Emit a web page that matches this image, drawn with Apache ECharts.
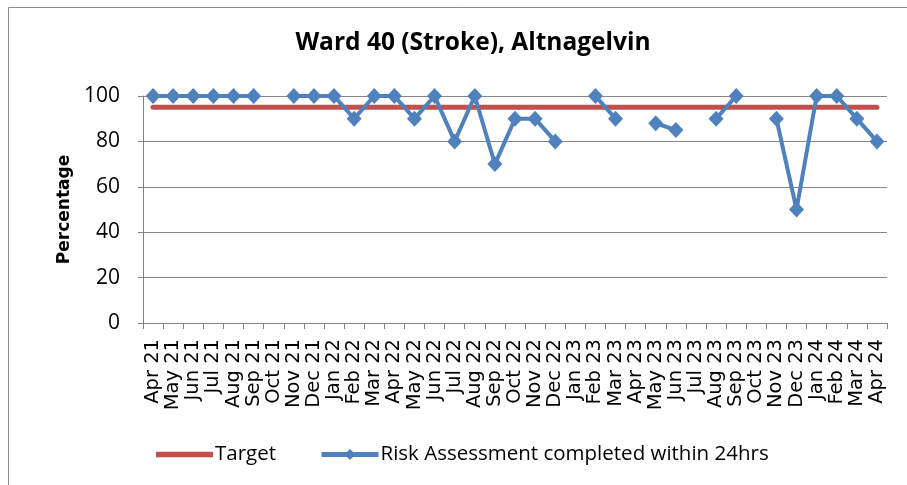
<!DOCTYPE html>
<html><head><meta charset="utf-8">
<script src="https://cdn.jsdelivr.net/npm/echarts@6/dist/echarts.min.js"></script>
<style>html,body{margin:0;padding:0;background:#fff}#c{width:907px;height:485px}</style>
</head><body><div id="c"></div>
<script>
const categories = ["Apr 21","May 21","Jun 21","Jul 21","Aug 21","Sep 21","Oct 21","Nov 21","Dec 21","Jan 22","Feb 22","Mar 22","Apr 22","May 22","Jun 22","Jul 22","Aug 22","Sep 22","Oct 22","Nov 22","Dec 22","Jan 23","Feb 23","Mar 23","Apr 23","May 23","Jun 23","Jul 23","Aug 23","Sep 23","Oct 23","Nov 23","Dec 23","Jan 24","Feb 24","Mar 24","Apr 24"];
const riskValues = [100,100,100,100,100,100,null,100,100,100,90,100,100,90,100,80,100,70,90,90,80,null,100,90,null,88,85,null,90,100,null,90,50,100,100,90,80];
const targetValues = [95,95,95,95,95,95,95,95,95,95,95,95,95,95,95,95,95,95,95,95,95,95,95,95,95,95,95,95,95,95,95,95,95,95,95,95,95];
const yTicks = {min:0, max:100, interval:20};
const titleText = "Ward 40 (Stroke), Altnagelvin";
const yName = "Percentage";
const seriesNames = ["Target","Risk Assessment completed within 24hrs"];

const chart = echarts.init(document.getElementById('c'), null, {renderer:'canvas'});
const os = "'Open Sans', sans-serif";
chart.setOption({
  animation:false,
  backgroundColor:'#fff',
  graphic:[{type:'rect', shape:{x:8.5,y:7.5,width:1000,height:1000}, style:{fill:'none', stroke:'#8c8c8c', lineWidth:1}, silent:true}],
  title:{text:titleText, top:26, left:468, textAlign:'center', textStyle:{fontFamily:os, fontWeight:'bold', fontSize:24.5, color:'#000'}},
  grid:{left:143, right:20, top:96, bottom:162, containLabel:false},
  legend:{left:151, top:439, itemWidth:57, itemHeight:14, itemGap:43,
    textStyle:{fontFamily:os, fontSize:20.5, color:'#000', padding:[0,0,0,-3]},
    data:[{name:seriesNames[0], icon:'path://M0,0 L10,0 L10,1 L0,1 Z'},
          {name:seriesNames[1], lineStyle:{width:5}}]},
  xAxis:{type:'category', data:categories, boundaryGap:true,
    axisLine:{lineStyle:{color:'#868686', width:1}},
    axisTick:{show:true, alignWithLabel:false, interval:0, length:6, lineStyle:{color:'#868686'}},
    axisLabel:{interval:0, rotate:90, fontFamily:"'DejaVu Sans', sans-serif", fontSize:19.5, color:'#000', margin:16}},
  yAxis:{type:'value', min:yTicks.min, max:yTicks.max, interval:yTicks.interval,
    name:yName, nameLocation:'middle', nameGap:68, nameRotate:90,
    nameTextStyle:{fontFamily:"'DejaVu Sans', sans-serif", fontWeight:'bold', fontSize:17, color:'#000'},
    axisLine:{show:true, lineStyle:{color:'#868686'}},
    axisTick:{show:true, length:5, lineStyle:{color:'#868686'}},
    axisLabel:{fontFamily:os, fontSize:21, color:'#000', margin:23},
    splitLine:{lineStyle:{color:'#868686', width:1}}},
  series:[
    {name:seriesNames[0], type:'line', data:targetValues, symbol:'none', itemStyle:{color:'#C0504D'}, lineStyle:{color:'#C0504D', width:5, cap:'round'}, z:2},
    {name:seriesNames[1], type:'line', data:riskValues, connectNulls:false, symbol:'diamond', symbolSize:[15,16],
      itemStyle:{color:'#4F81BD'}, lineStyle:{color:'#4F81BD', width:4}, z:3}
  ]
});
</script></body></html>
